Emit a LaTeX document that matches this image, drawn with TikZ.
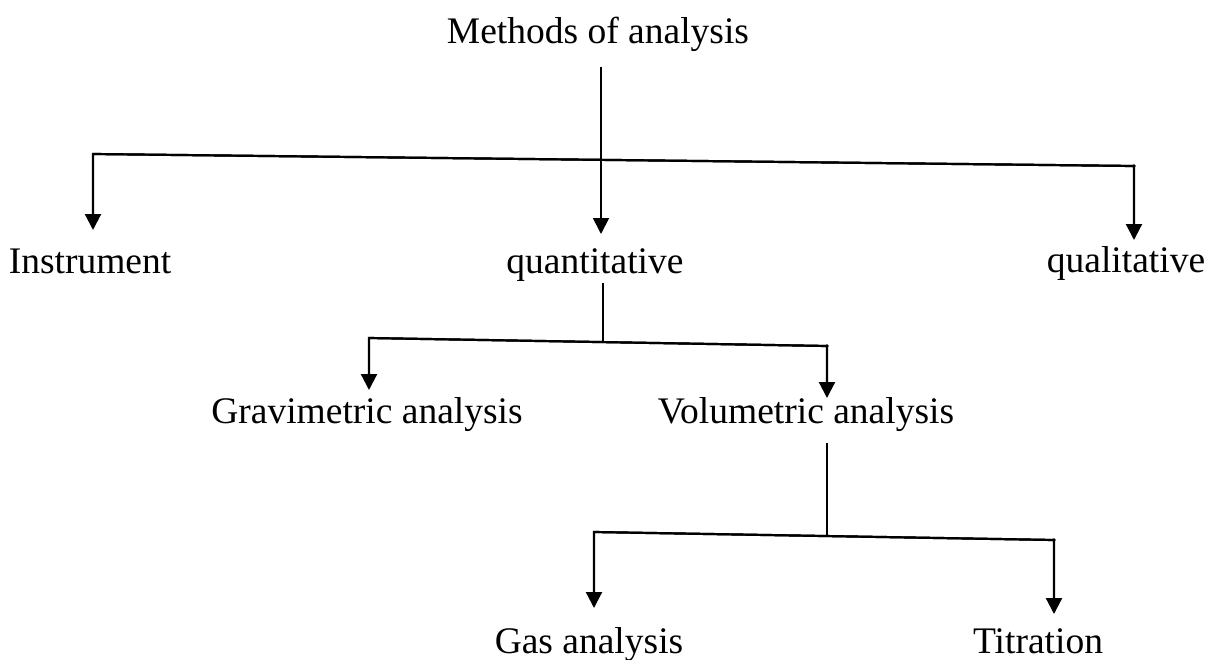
\documentclass[tikz,border=0pt]{standalone}
\usepackage{fontspec}
\setmainfont{Liberation Serif}
\usetikzlibrary{arrows.meta}
\begin{document}
\begin{tikzpicture}[x=1pt,y=-1pt,
  lbl/.style={anchor=base,inner sep=0pt,font=\fontsize{37.5}{45}\selectfont},
  tip/.style={-{Triangle[length=16pt,width=16pt]}},
  link/.style={line width=2.2pt,line join=miter},
  stem/.style={line width=1.8pt},
  dot/.style={fill=black}]
\useasboundingbox (0,0) rectangle (1208,659);
% labels
\node[lbl] (root) at (598,43) {Methods of analysis};
\node[lbl] (inst) at (90,273) {Instrument};
\node[lbl] (quant) at (595,273) {quantitative};
\node[lbl] (qual) at (1126,272) {qualitative};
\node[lbl] (grav) at (367,423) {Gravimetric analysis};
\node[lbl] (vol) at (806,423) {Volumetric analysis};
\node[lbl] (gas) at (589,653) {Gas analysis};
\node[lbl] (titr) at (1038,653) {Titration};
% connector points
\coordinate (r0) at (601,67);
\coordinate (b1l) at (93,154);
\coordinate (b1r) at (1134,166);
\coordinate (t1i) at (93,230);
\coordinate (t1m) at (601,234);
\coordinate (t1q) at (1134,240);
\coordinate (q0) at (603,283);
\coordinate (b2m) at (603,342);
\coordinate (b2l) at (369,338);
\coordinate (b2r) at (827,346);
\coordinate (t2g) at (369,390);
\coordinate (t2v) at (827,398);
\coordinate (v0) at (827,443);
\coordinate (b3m) at (827,536);
\coordinate (b3l) at (594,532);
\coordinate (b3r) at (1054,540);
\coordinate (t3g) at (594,608);
\coordinate (t3t) at (1054,614);
% level 1
\draw[stem,tip] (r0) -- (t1m);
\draw[link,tip] (b1r) -- (b1l) -- (t1i);
\draw[link,tip] (b1l) -- (b1r) -- (t1q);
\fill[dot] (b1r) circle (1.8pt);
% level 2
\draw[stem] (q0) -- (b2m);
\draw[link,tip] (b2r) -- (b2l) -- (t2g);
\draw[link,tip] (b2l) -- (b2r) -- (t2v);
\fill[dot] (b2r) circle (1.8pt);
% level 3
\draw[stem] (v0) -- (b3m);
\draw[link,tip] (b3r) -- (b3l) -- (t3g);
\draw[link,tip] (b3l) -- (b3r) -- (t3t);
\fill[dot] (b3r) circle (1.8pt);
\end{tikzpicture}
\end{document}
